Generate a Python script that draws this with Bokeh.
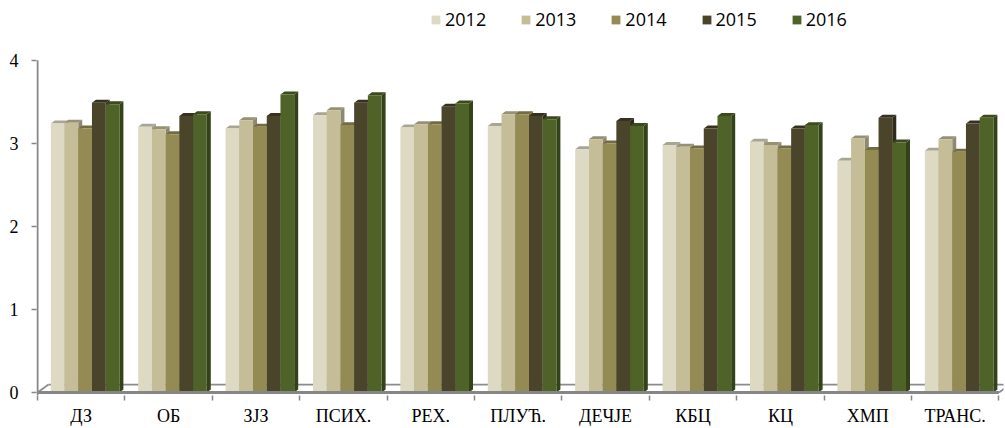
from bokeh.plotting import figure
from bokeh.models import Range1d, FixedTicker, Legend, LegendItem
from bokeh.embed import file_html
from bokeh.resources import INLINE

categories = ["ДЗ", "ОБ", "ЗЈЗ", "ПСИХ.", "РЕХ.", "ПЛУЋ.", "ДЕЧЈЕ", "КБЦ", "КЦ", "ХМП", "ТРАНС."]
years = ["2012", "2013", "2014", "2015", "2016"]
v2012 = [3.24, 3.20, 3.18, 3.34, 3.19, 3.21, 2.93, 2.98, 3.02, 2.79, 2.91]
v2013 = [3.25, 3.17, 3.28, 3.40, 3.23, 3.35, 3.05, 2.96, 2.98, 3.06, 3.05]
v2014 = [3.18, 3.11, 3.20, 3.22, 3.23, 3.35, 3.00, 2.94, 2.94, 2.92, 2.90]
v2015 = [3.49, 3.33, 3.33, 3.49, 3.44, 3.33, 3.27, 3.18, 3.18, 3.31, 3.24]
v2016 = [3.47, 3.35, 3.59, 3.58, 3.48, 3.29, 3.21, 3.33, 3.22, 3.01, 3.31]
y_ticks = [0, 1, 2, 3, 4]

series = [v2012, v2013, v2014, v2015, v2016]
front_colors = ["#DDD9C3", "#C4BD97", "#948A54", "#4A442A", "#4F6228"]
top_colors = ["#A8A592", "#969174", "#736B43", "#37321F", "#3C4A1E"]
side_colors = ["#A39F8B", "#8D8970", "#6B643D", "#2F2B1B", "#344219"]

N = len(categories)
Y_MAX = y_ticks[-1]
PX_PER_CAT = 87.4
W, H = 1005, 428
BL, BR, BT, BB = 36, 2, 0, 32
frame_w = W - BL - BR
frame_h = H - BT - BB
TOP_PAD = 60            # px between canvas top and the y=4 tick
AXIS_SPAN = 333         # px from y=0 to y=4
px_per_y = AXIS_SPAN / Y_MAX
y1 = Y_MAX + TOP_PAD / px_per_y
y0 = -(frame_h - TOP_PAD - AXIS_SPAN) / px_per_y
x0 = -0.5 - 1 / PX_PER_CAT

p = figure(width=W, height=H, output_backend="svg", toolbar_location=None,
           x_range=Range1d(x0, x0 + frame_w / PX_PER_CAT),
           y_range=Range1d(y0, y1),
           min_border_left=BL, min_border_right=BR, min_border_top=BT, min_border_bottom=BB)
p.outline_line_color = None
p.grid.visible = False
p.background_fill_color = "white"
p.border_fill_color = "white"

# 3D geometry (pixel offsets converted to data units)
dx = 4 / PX_PER_CAT
dy = 3 / px_per_y
dxf = 11 / PX_PER_CAT
dyf = 8 / px_per_y
bar_w = 0.157
start = 0.152 - 0.5

floor_col = "#8C8C8C"
axis_col = "#868686"
# floor back edges
p.segment(x0=[-0.5, -0.5 + dxf, N - 0.5], y0=[0, dyf, 0],
          x1=[-0.5 + dxf, N - 0.5 + dxf, N - 0.5 + dxf], y1=[dyf, dyf, dyf],
          line_color=floor_col, line_width=1.8)

legend_items = []
for s, vals in enumerate(series):
    lefts = [i + start + s * bar_w for i in range(N)]
    rights = [l + bar_w for l in lefts]
    side_xs = [[r, r + dx, r + dx, r] for r in rights]
    side_ys = [[0, dy, v + dy, v] for v in vals]
    p.patches(side_xs, side_ys, fill_color=side_colors[s], line_color=None)
    top_xs = [[l, r, r + dx, l + dx] for l, r in zip(lefts, rights)]
    top_ys = [[v, v, v + dy, v + dy] for v in vals]
    p.patches(top_xs, top_ys, fill_color=top_colors[s], line_color=None)
    r = p.quad(left=lefts, right=rights, bottom=[0] * N, top=vals,
               fill_color=front_colors[s], line_color=None)
    legend_items.append(LegendItem(label=years[s], renderers=[r]))

# floor front edge and value axis line
p.segment(x0=[-0.5], y0=[0], x1=[N - 0.5], y1=[0], line_color=axis_col, line_width=3)
p.segment(x0=[-0.5], y0=[y0], x1=[-0.5], y1=[Y_MAX], line_color=axis_col, line_width=2)

# x axis
xa = p.xaxis[0]
xa.ticker = FixedTicker(ticks=list(range(N)), minor_ticks=[i - 0.5 for i in range(N + 1)])
xa.major_label_overrides = {i: c for i, c in enumerate(categories)}
xa.axis_line_color = None
xa.major_tick_line_color = None
xa.major_tick_in = 0
xa.major_tick_out = 0
xa.minor_tick_line_color = axis_col
xa.minor_tick_line_width = 1.5
xa.minor_tick_in = 0
xa.minor_tick_out = 5
xa.major_label_standoff = 5
xa.major_label_text_font = "Liberation Serif"
xa.major_label_text_font_size = "18px"
xa.major_label_text_color = "black"

# y axis
ya = p.yaxis[0]
ya.ticker = FixedTicker(ticks=y_ticks)
ya.axis_line_color = None
ya.major_tick_line_color = axis_col
ya.major_tick_line_width = 1.5
ya.major_tick_in = 0
ya.major_tick_out = 5
ya.minor_tick_line_color = None
ya.major_label_standoff = 13
ya.major_label_text_font = "Liberation Serif"
ya.major_label_text_font_size = "18px"
ya.major_label_text_color = "black"

legend = Legend(items=legend_items, orientation="horizontal",
                location=(394, frame_h - 32), padding=0, margin=0, spacing=34,
                glyph_width=11, glyph_height=11, label_standoff=4,
                label_text_font="Open Sans", label_text_font_size="18px",
                label_text_color="black", border_line_color=None,
                background_fill_alpha=0)
p.add_layout(legend, "center")

open("out.html", "w").write(file_html(p, INLINE))
